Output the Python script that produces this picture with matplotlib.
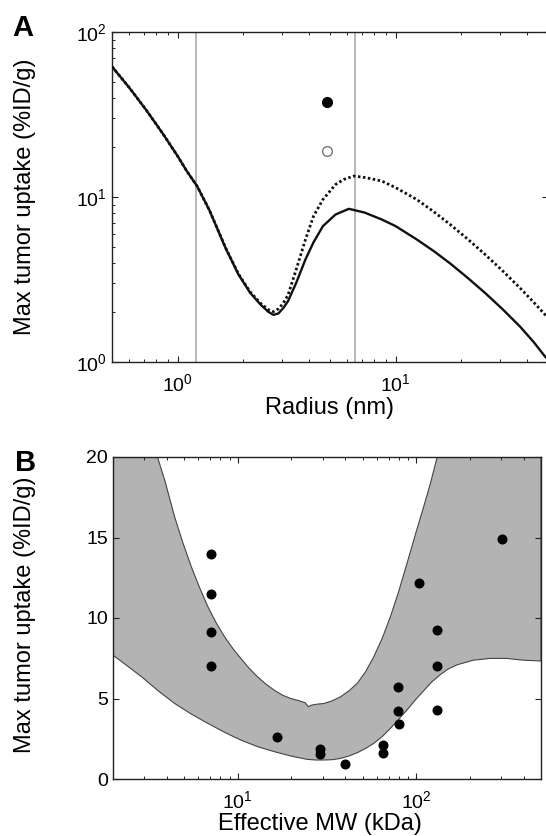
import matplotlib
matplotlib.use("Agg")
import matplotlib.pyplot as plt
import numpy as np
from matplotlib.ticker import LogLocator, NullFormatter, FixedLocator

plt.rcParams['font.family'] = ['Liberation Sans', 'DejaVu Sans']
plt.rcParams['mathtext.default'] = 'regular'
plt.rcParams['mathtext.fontset'] = 'custom'
plt.rcParams['mathtext.rm'] = 'Liberation Sans'

# ---------------- Panel A data ----------------
radius_solid = [0.5, 0.6, 0.716, 0.85, 1.0, 1.1, 1.23, 1.4, 1.66, 1.9, 2.15, 2.4, 2.6, 2.75,
                2.9, 3.05, 3.21, 3.5, 3.86, 4.2, 4.64, 5.3, 6.1, 7.2, 8.63, 10, 12.5, 15,
                17.9, 21.5, 25.9, 31, 37.3, 43, 47.9, 50]
uptake_solid = [61.7, 46.0, 33.8, 24.5, 17.7, 14.4, 11.6, 8.3, 4.9, 3.4, 2.63, 2.23, 2.02, 1.93,
                1.97, 2.12, 2.34, 3.02, 4.19, 5.31, 6.66, 7.83, 8.48, 8.05, 7.31, 6.66, 5.53, 4.69,
                3.93, 3.22, 2.6, 2.085, 1.634, 1.32, 1.1, 1.03]
radius_dotted = [0.5, 0.6, 0.716, 0.85, 1.0, 1.1, 1.23, 1.4, 1.66, 1.9, 2.15, 2.4, 2.6, 2.75,
                 2.9, 3.05, 3.21, 3.5, 3.86, 4.2, 4.64, 5.3, 5.8, 6.44, 7.3, 8.63, 10, 12.5,
                 15, 17.9, 21.5, 25.9, 31, 37.3, 43, 47.9, 50]
uptake_dotted = [61.7, 46.0, 33.8, 24.5, 17.7, 14.4, 11.6, 8.3, 4.92, 3.42, 2.66, 2.27, 2.08, 2.02,
                 2.1, 2.27, 2.55, 3.64, 5.53, 7.65, 9.66, 11.9, 12.8, 13.4, 13.1, 12.5, 11.4, 9.66,
                 8.12, 6.77, 5.53, 4.45, 3.56, 2.8, 2.3, 1.97, 1.85]
vline_radius = [1.22, 6.49]
point_radius = [4.82]
point_filled = [37.7]
point_open = [19.1]

# ---------------- Panel B data ----------------
mw_points = [7.05, 7.05, 7.05, 7.05, 16.5, 28.8, 28.8, 39.7, 65.2, 65.2, 79.4, 79.4, 79.8,
             104, 131.5, 131.5, 131, 304]
uptake_points = [14.0, 11.5, 9.1, 6.99, 2.63, 1.84, 1.55, 0.95, 2.09, 1.59, 5.71, 4.2, 3.41,
                 12.2, 9.27, 7.03, 4.3, 14.93]
band_upper_mw = [2, 3.55, 3.90, 4.43, 4.93, 5.5, 6.11, 6.81, 7.57, 8.44, 9.38, 10.4, 11.6, 12.9,
                 14.4, 16.0, 17.8, 19.8, 22.1, 23.8, 24.9, 25.9, 27.9, 30.4, 33.9, 37.7, 42,
                 46.7, 52, 57.8, 64.4, 71.6, 79.6, 88.7, 98.6, 110, 120, 131, 500]
band_upper_val = [20, 20, 18.55, 16.28, 14.66, 13.17, 11.89, 10.69, 9.70, 8.83, 8.11, 7.49, 6.87,
                  6.35, 5.89, 5.52, 5.21, 5.0, 4.86, 4.74, 4.49, 4.59, 4.65, 4.69, 4.86, 5.11,
                  5.48, 5.94, 6.66, 7.59, 8.73, 10.07, 11.62, 13.38, 15.14, 16.9, 18.35, 20, 20]
band_lower_mw = [2.0, 2.33, 2.89, 3.58, 4.43, 5.5, 6.81, 8.44, 10.4, 12.9, 16.0, 19.8, 24.5,
                 27.4, 30.4, 33.9, 37.7, 42, 46.7, 52, 57.8, 64.4, 71.6, 79.6, 88.7, 98.6, 110,
                 122, 136, 151, 169, 209, 259, 321, 397, 500]
band_lower_val = [7.69, 7.14, 6.35, 5.48, 4.69, 4.03, 3.45, 2.90, 2.42, 2.01, 1.70, 1.43, 1.22,
                  1.18, 1.18, 1.2, 1.28, 1.43, 1.63, 1.90, 2.21, 2.63, 3.14, 3.70, 4.28, 4.90,
                  5.48, 6.02, 6.47, 6.83, 7.09, 7.38, 7.49, 7.49, 7.38, 7.33]

W, H = 546, 836
fig = plt.figure(figsize=(W / 100, H / 100), dpi=100)

def frac(l, r, t, b):
    return [l / W, 1 - b / H, (r - l) / W, (b - t) / H]

spine_col = '#222222'
tick_fs = 14
label_fs = 17

def style_axes(ax):
    for s in ax.spines.values():
        s.set_color(spine_col)
        s.set_linewidth(1.0)
    ax.tick_params(which='both', direction='in', top=True, right=True, colors=spine_col,
                   labelcolor='black', labelsize=tick_fs)
    ax.tick_params(which='major', length=4, width=0.8)
    ax.tick_params(which='minor', length=2.5, width=0.7)

# ---------------- Panel A ----------------
axA = fig.add_axes(frac(112, 548, 32, 362))
axA.set_xscale('log')
axA.set_yscale('log')
axA.set_xlim(0.5, 50)
axA.set_ylim(1, 100)
for xv in vline_radius:
    axA.axvline(xv, color='#aaaaaa', lw=1.2, zorder=1)
axA.plot(radius_dotted, uptake_dotted, color='#111111', lw=2.0, linestyle=(0, (0.9, 0.9)), zorder=3)
axA.plot(radius_solid, uptake_solid, color='#111111', lw=1.7, zorder=4)
axA.plot(point_radius, point_filled, 'o', color='black', ms=7, zorder=5)
axA.plot(point_radius, point_open, 'o', mfc='white', mec='#777777', mew=1.0, ms=7, zorder=5)
axA.xaxis.set_major_locator(FixedLocator([1, 10]))
axA.xaxis.set_minor_locator(LogLocator(base=10, subs=np.arange(2, 10)))
axA.xaxis.set_minor_formatter(NullFormatter())
axA.yaxis.set_major_locator(FixedLocator([1, 10, 100]))
axA.yaxis.set_minor_locator(LogLocator(base=10, subs=np.arange(2, 10)))
axA.yaxis.set_minor_formatter(NullFormatter())
style_axes(axA)
axA.tick_params(axis='y', which='minor', right=False)
axA.tick_params(axis='x', which='major', pad=8)
axA.set_xlabel('Radius (nm)', fontsize=label_fs)
axA.xaxis.set_label_coords(0.498, -0.105)
axA.set_ylabel('Max tumor uptake (%ID/g)', fontsize=label_fs)
axA.yaxis.set_label_coords(-0.174, 0.5)
fig.text(12 / W, 1 - 14 / H, 'A', fontsize=21, fontweight='bold', ha='left', va='top')

# ---------------- Panel B ----------------
axB = fig.add_axes(frac(113, 541, 457, 779))
axB.set_xscale('log')
axB.set_xlim(2, 500)
axB.set_ylim(0, 20)
poly_x = list(band_upper_mw) + list(band_lower_mw[::-1])
poly_y = list(band_upper_val) + list(band_lower_val[::-1])
axB.fill(poly_x, poly_y, facecolor='#b3b3b3', edgecolor='#444444', lw=0.8, zorder=1)
axB.plot(mw_points, uptake_points, 'o', color='black', ms=6.2, zorder=3)
axB.xaxis.set_major_locator(FixedLocator([10, 100]))
axB.xaxis.set_minor_locator(LogLocator(base=10, subs=np.arange(2, 10)))
axB.xaxis.set_minor_formatter(NullFormatter())
axB.set_yticks([0, 5, 10, 15, 20])
style_axes(axB)
axB.tick_params(axis='x', which='major', pad=8)
axB.set_xlabel('Effective MW (kDa)', fontsize=label_fs)
axB.xaxis.set_label_coords(0.484, -0.105)
axB.set_ylabel('Max tumor uptake (%ID/g)', fontsize=label_fs)
axB.yaxis.set_label_coords(-0.18, 0.51)
fig.text(15 / W, 1 - 449 / H, 'B', fontsize=21, fontweight='bold', ha='left', va='top')

fig.savefig('out.png', dpi=100)
